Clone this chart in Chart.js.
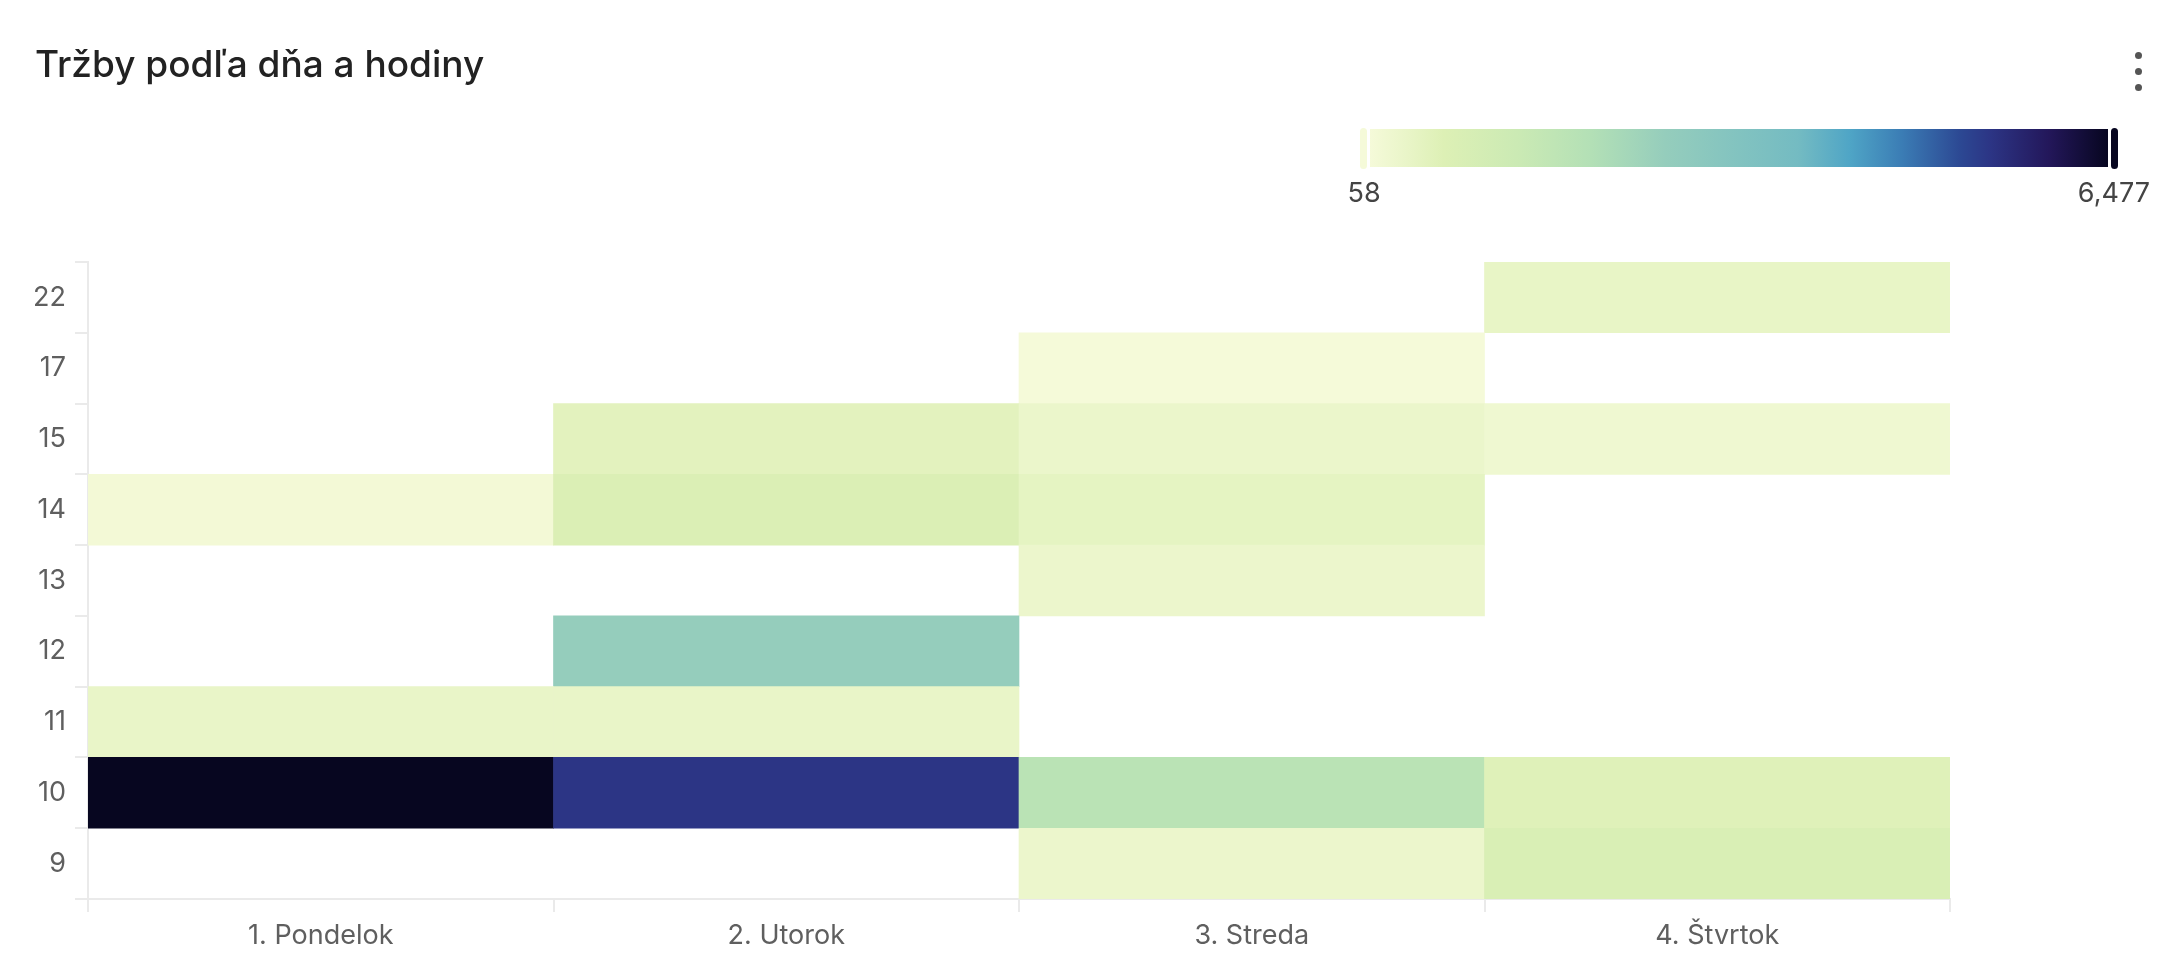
<!DOCTYPE html>
<html>
<head>
<meta charset="utf-8">
<script src="https://cdn.jsdelivr.net/npm/chart.js@4.4.1/dist/chart.umd.min.js"></script>
<style>
  html, body { margin: 0; padding: 0; background: #fff; }
  body { width: 2170px; height: 954px; position: relative; overflow: hidden; font-family: Inter, "Noto Sans", sans-serif; }
  #title { position: absolute; left: 35px; top: 41px; margin: 0; font-size: 37px; font-weight: 500; color: #222; line-height: normal; }
  #menu { position: absolute; left: 2135px; top: 52px; }
  #menu span { display: block; width: 7px; height: 7px; border-radius: 50%; background: #555; margin-bottom: 9px; }
  #scale { position: absolute; left: 1358px; top: 126px; width: 762px; height: 45px; }
  #bar { position: absolute; left: 12px; right: 12px; top: 3px; height: 38px; }
  .handle { position: absolute; top: 0; width: 11px; height: 45px; border-radius: 6px; box-sizing: border-box; }
  .lbl { position: absolute; top: 176px; font-size: 27px; color: #444; line-height: normal; }
  #wrap { position: absolute; left: 0; top: 0; width: 2170px; height: 954px; }
</style>
</head>
<body>
<div id="wrap"><canvas id="heatmap"></canvas></div>
<h2 id="title">Tržby podľa dňa a hodiny</h2>
<div id="menu"><span></span><span></span><span></span></div>
<div id="scale">
  <div id="bar"></div>
  <div class="handle" id="hMin" style="left:0"></div>
  <div class="handle" id="hMax" style="right:0"></div>
</div>
<div class="lbl" id="lblMin"></div>
<div class="lbl" id="lblMax" style="right:20px"></div>

<script>
const days = ["1. Pondelok", "2. Utorok", "3. Streda", "4. Štvrtok"];
const hours = ["9", "10", "11", "12", "13", "14", "15", "17", "22"];

// sales per hour (same order as hours), null = nothing sold
const pondelok = [null, 6477, 380, null, null, 122, null, null, null];
const utorok = [null, 5450, 375, 2626, null, 764, 540, null, null];
const streda = [310, 1791, null, null, 300, 475, 320, 58, null];
const stvrtok = [828, 636, null, null, null, null, 218, null, 411];

const sales = [pondelok, utorok, streda, stvrtok];

// colour ramp [position, colour]
const ramp = [
  [0.0, "#f5fad9"],
  [0.05, "#e9f5c8"],
  [0.1, "#ddf0b5"],
  [0.2, "#cbeab4"],
  [0.3, "#b3e0b6"],
  [0.4, "#95cdbc"],
  [0.5, "#82c3c0"],
  [0.58, "#74bbc2"],
  [0.65, "#4fa5c6"],
  [0.72, "#3b7db5"],
  [0.8, "#2c4893"],
  [0.84, "#2c3585"],
  [0.92, "#23175a"],
  [1.0, "#070620"],
];

const all = sales.flat().filter((v) => v !== null);
const minVal = Math.min(...all);
const maxVal = Math.max(...all);

const hex = (c) => [1, 3, 5].map((i) => parseInt(c.substr(i, 2), 16));

const colorFor = function (v) {
  const t = (v - minVal) / (maxVal - minVal);
  for (let i = 1; i < ramp.length; i++) {
    if (t <= ramp[i][0]) {
      const a = hex(ramp[i - 1][1]);
      const b = hex(ramp[i][1]);
      const f = (t - ramp[i - 1][0]) / (ramp[i][0] - ramp[i - 1][0]);
      const c = a.map((x, k) => Math.round(x + (b[k] - x) * f));
      return "rgb(" + c.join(",") + ")";
    }
  }
  return ramp[ramp.length - 1][1];
};

// legend
document.getElementById("bar").style.background =
  "linear-gradient(to right, " + ramp.map((s) => s[1] + " " + s[0] * 100 + "%").join(", ") + ")";
document.getElementById("hMin").style.cssText += ";background:" + ramp[0][1] + ";border:2px solid #fff";
document.getElementById("hMax").style.cssText += ";background:" + ramp[ramp.length - 1][1] + ";border:2px solid #fff";
const lblMin = document.getElementById("lblMin");
lblMin.textContent = minVal.toLocaleString("en-US");
document.getElementById("lblMax").textContent = maxVal.toLocaleString("en-US");
lblMin.style.left = 1364 - lblMin.offsetWidth / 2 + "px";

// one dataset per hour row, each cell is a floating bar over its row
const datasets = hours.map((h, i) => ({
  label: h + ":00",
  data: sales.map((d) => (d[i] === null ? null : [i - 0.5, i + 0.5])),
  backgroundColor: sales.map((d) => (d[i] === null ? "transparent" : colorFor(d[i]))),
  values: sales.map((d) => d[i]),
  grouped: false,
  barPercentage: 1,
  categoryPercentage: 1,
  borderWidth: 0,
}));

const gridColor = "#eaeaea";
const tickFont = { family: "Inter", size: 27 };

new Chart(document.getElementById("heatmap"), {
  type: "bar",
  data: { labels: days, datasets: datasets },
  options: {
    responsive: true,
    maintainAspectRatio: false,
    devicePixelRatio: 1,
    animation: false,
    layout: { padding: { top: 262, right: 220, bottom: 2, left: 0 } },
    plugins: {
      legend: { display: false },
      tooltip: {
        callbacks: {
          label: (ctx) => ctx.dataset.label + ": " + ctx.dataset.values[ctx.dataIndex].toLocaleString("en-US"),
        },
      },
    },
    scales: {
      x: {
        offset: true,
        afterFit: (s) => {
          s.height = 53;
        },
        grid: { offset: true, drawOnChartArea: false, tickLength: 13, color: gridColor, lineWidth: 2 },
        border: { color: gridColor, width: 2 },
        ticks: { color: "#5f5f5f", padding: 8, font: tickFont },
      },
      y: {
        type: "linear",
        position: "left",
        min: -0.5,
        max: 8.5,
        weight: 1,
        afterBuildTicks: (s) => {
          s.ticks = hours.map((h, i) => ({ value: i }));
        },
        afterFit: (s) => {
          s.width = 75;
        },
        grid: { display: false, drawTicks: false },
        border: { display: false },
        ticks: {
          color: "#5f5f5f",
          padding: 9,
          font: tickFont,
          callback: (v) => hours[v],
        },
      },
      yGrid: {
        type: "linear",
        position: "left",
        min: -0.5,
        max: 8.5,
        weight: 0,
        afterBuildTicks: (s) => {
          const t = [];
          for (let i = 0; i <= hours.length; i++) t.push({ value: i - 0.5 });
          s.ticks = t;
        },
        afterFit: (s) => {
          s.width = 13;
        },
        grid: { drawOnChartArea: false, tickLength: 13, color: gridColor, lineWidth: 2 },
        border: { color: gridColor, width: 2 },
        ticks: { display: false },
      },
    },
  },
});
</script>
</body>
</html>
